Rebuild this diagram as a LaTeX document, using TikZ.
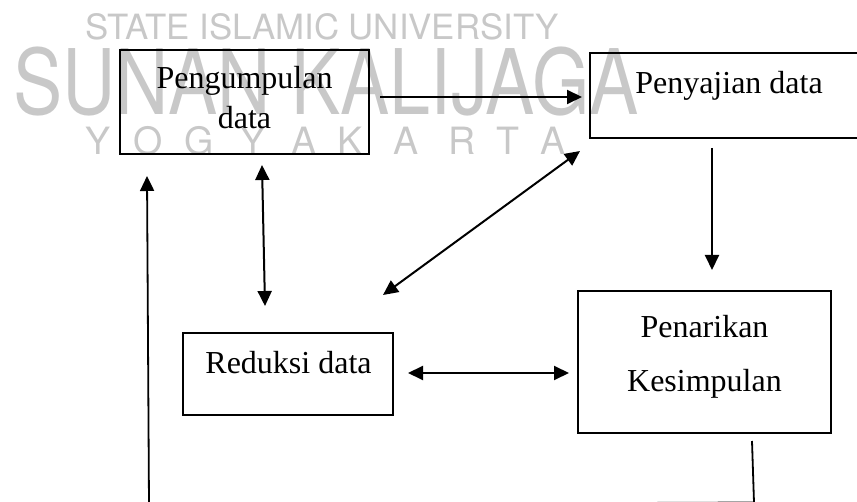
\documentclass[tikz,border=0pt]{standalone}
\usepackage{fontspec}
\usepackage{graphicx}
\setmainfont{Liberation Serif}
\newfontfamily\wmfont{TeX Gyre Heros}
\usetikzlibrary{arrows.meta,calc}
\definecolor{wmgray}{RGB}{200,200,200}
\begin{document}
\begin{tikzpicture}[x=1pt,y=-1pt,
  box/.style={draw=black,line width=1.8pt,inner sep=0pt,outer sep=0pt},
  lbl/.style={font=\fontsize{32}{40}\selectfont,inner sep=0pt,anchor=base},
  wm/.style={text=wmgray,inner sep=0pt},
  arr/.style={line width=2pt,-{Triangle[length=15pt,width=14pt]}},
  darr/.style={line width=2pt,{Triangle[length=15pt,width=14pt]}-{Triangle[length=15pt,width=14pt]}},
  fb/.style={line width=1.8pt,-{Triangle[length=15pt,width=14pt]}}
]
\useasboundingbox (0,0) rectangle (857,502);

% watermark
\node[wm,font=\wmfont\fontsize{34.8}{40}\selectfont,anchor=base west] (wm1) at (85,40) {STATE ISLAMIC UNIVERSITY};
\node[wm,font=\wmfont\fontsize{90.5}{100}\selectfont,anchor=base west] (wm2) at (13,115) {\scalebox{0.815}[1]{SUNAN KALIJAGA}};
\foreach \l/\cx [count=\i] in {Y/98,O/148,G/199,Y/253,A/304,K/350,A/406,R/462,T/508,A/553}
  \node[wm,font=\wmfont\fontsize{37.6}{40}\selectfont,anchor=base] (yk\i) at (\cx,155) {\l};

% boxes
\node[box,minimum width=249pt,minimum height=104pt] (peng) at (244.5,102) {};
\node[box,minimum width=280pt,minimum height=85pt] (saji) at (730,95.5) {};
\node[box,minimum width=210pt,minimum height=82pt] (red) at (288,374) {};
\node[box,minimum width=253pt,minimum height=142pt] (pena) at (704.5,362) {};

% texts
\node[lbl] (pengA) at (244.5,89) {Pengumpulan};
\node[lbl] (pengB) at (244.5,129) {data};
\node[lbl] (sajiT) at (729,94) {Penyajian data};
\node[lbl] (redT) at (288.5,374) {Reduksi data};
\node[lbl] (penaA) at (704.5,338) {Penarikan};
\node[lbl] (penaB) at (704.5,392) {Kesimpulan};

% connectors
\draw[arr] ($(peng.east)+(11,-5)$) -- ($(saji.west)+(-8,1.5)$);
\draw[arr] ($(saji.south)+(-18,10)$) -- ($(pena.north)+(7.5,-21)$);
\draw[darr] ($(peng.south)+(17.5,11)$) -- ($(red.north)+(-23,-27)$);
\draw[darr] ($(saji.south west)+(-10,13)$) -- ($(red.north east)+(-10,-38)$);
\draw[darr] ($(red.east)+(15,-1)$) -- ($(pena.west)+(-9,11)$);

\coordinate (fb1) at (754,502.5);
\coordinate (fb2) at (149,505);
\draw[fb] ($(pena.south)+(47.5,8)$) -- (fb1) -- (fb2) -- ($(peng.south west)+(27,22)$);
\end{tikzpicture}
\end{document}
